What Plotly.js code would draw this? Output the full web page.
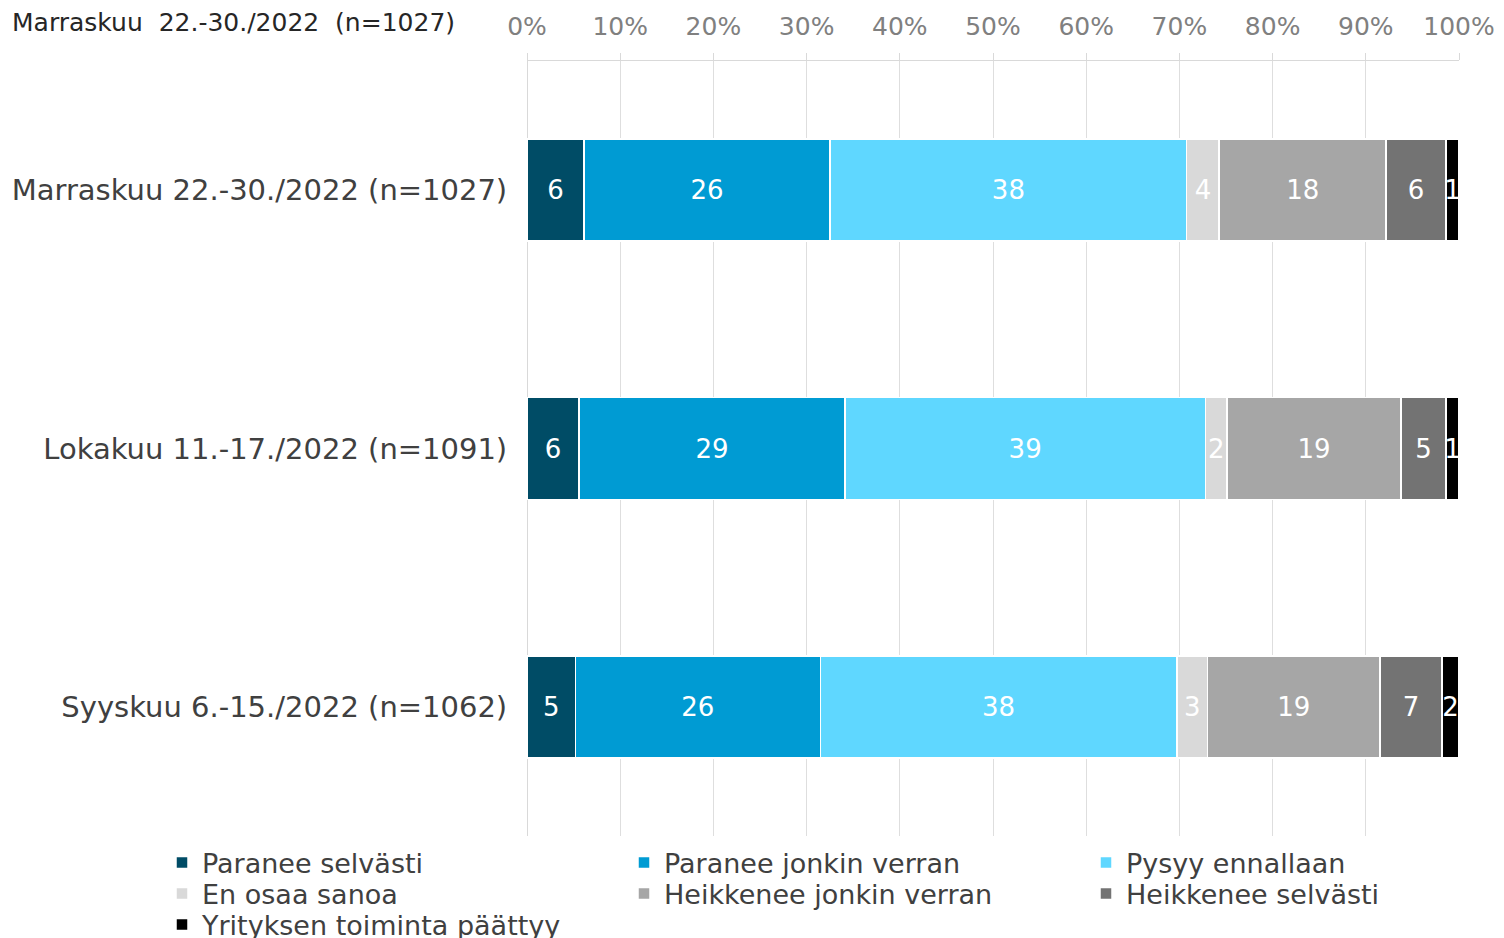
<!DOCTYPE html>
<html>
<head>
<meta charset="utf-8">
<script src="https://cdn.plot.ly/plotly-3.0.1.min.js"></script>
<style>
html, body { margin: 0; padding: 0; background: #fff; }
#chart { width: 1504px; height: 938px; }
</style>
</head>
<body>
<div id="chart"></div>
<script>
// survey rounds, top to bottom
const periods = [
    'Marraskuu 22.-30./2022 (n=1027)',
    'Lokakuu 11.-17./2022 (n=1091)',
    'Syyskuu 6.-15./2022 (n=1062)'
];

// shares in %
const paranee_selvasti = [6.1, 5.6, 5.2];
const paranee_jonkin = [26.4, 28.5, 26.3];
const pysyy_ennallaan = [38.2, 38.7, 38.3];
const en_osaa = [3.5, 2.3, 3.3];
const heikkenee_jonkin = [17.9, 18.7, 18.5];
const heikkenee_selvasti = [6.4, 4.8, 6.7];
const toiminta_paattyy = [1.4, 1.4, 1.8];

// labels printed in the bars
const lbl_paranee_selvasti = ['6', '6', '5'];
const lbl_paranee_jonkin = ['26', '29', '26'];
const lbl_pysyy_ennallaan = ['38', '39', '38'];
const lbl_en_osaa = ['4', '2', '3'];
const lbl_heikkenee_jonkin = ['18', '19', '19'];
const lbl_heikkenee_selvasti = ['6', '5', '7'];
const lbl_toiminta_paattyy = ['1', '1', '2'];

const FONT = 'DejaVu Sans, Verdana, sans-serif';

function make_trace(name, vals, labels, color, legend) {
    return {
        name: name,
        type: 'bar',
        orientation: 'h',
        x: vals,
        y: periods,
        text: labels,
        textposition: 'inside',
        insidetextanchor: 'middle',
        constraintext: 'none',
        textangle: 0,
        textfont: { family: FONT, size: 26, color: '#ffffff' },
        marker: { color: color, line: { color: '#ffffff', width: 1.5 } },
        legend: legend,
        hoverinfo: 'name+x'
    };
}

var data = [
    make_trace('Paranee selvästi', paranee_selvasti, lbl_paranee_selvasti, '#004C66', 'legend'),
    make_trace('Paranee jonkin verran', paranee_jonkin, lbl_paranee_jonkin, '#009BD3', 'legend2'),
    make_trace('Pysyy ennallaan', pysyy_ennallaan, lbl_pysyy_ennallaan, '#5FD7FF', 'legend3'),
    make_trace('En osaa sanoa', en_osaa, lbl_en_osaa, '#D9D9D9', 'legend4'),
    make_trace('Heikkenee jonkin verran', heikkenee_jonkin, lbl_heikkenee_jonkin, '#A6A6A6', 'legend5'),
    make_trace('Heikkenee selvästi', heikkenee_selvasti, lbl_heikkenee_selvasti, '#737373', 'legend6'),
    make_trace('Yrityksen toiminta päättyy', toiminta_paattyy, lbl_toiminta_paattyy, '#000000', 'legend7')
];

// one legend box per entry so the 3-column grid can be placed exactly
function legend_at(xpx, ypx) {
    return {
        xref: 'container', yref: 'container',
        x: xpx / 1504, xanchor: 'left',
        y: 1 - ypx / 938, yanchor: 'middle',
        orientation: 'v',
        bgcolor: 'rgba(0,0,0,0)',
        font: { family: FONT, size: 27, color: '#404040' }
    };
}

var layout = {
    width: 1504,
    height: 938,
    margin: { l: 527, r: 45, t: 61, b: 102, pad: 0, autoexpand: false },
    paper_bgcolor: '#ffffff',
    plot_bgcolor: '#ffffff',
    font: { family: FONT, color: '#404040' },
    title: {
        text: 'Marraskuu  22.-30./2022  (n=1027)',
        font: { family: FONT, size: 25, color: '#262626' },
        xref: 'container', yref: 'container',
        x: 12 / 1504, xanchor: 'left',
        y: 1 - 22 / 938, yanchor: 'middle'
    },
    barmode: 'stack',
    barnorm: 'percent',
    bargap: 0.605,
    showlegend: true,
    legend: legend_at(162, 863),
    legend2: legend_at(624, 863),
    legend3: legend_at(1086, 863),
    legend4: legend_at(162, 894),
    legend5: legend_at(624, 894),
    legend6: legend_at(1086, 894),
    legend7: legend_at(162, 925),
    xaxis: {
        side: 'top',
        range: [0, 100],
        tickmode: 'linear',
        tick0: 0,
        dtick: 10,
        ticksuffix: '%',
        ticks: 'outside',
        ticklen: 7,
        tickcolor: '#d9d9d9',
        ticklabelstandoff: 8,
        showline: true,
        linecolor: '#d9d9d9',
        linewidth: 1,
        showgrid: true,
        gridcolor: '#dedede',
        zeroline: true,
        zerolinecolor: '#d9d9d9',
        tickangle: 0,
        automargin: false,
        tickfont: { family: FONT, size: 25, color: '#808080' },
        fixedrange: true
    },
    yaxis: {
        type: 'category',
        autorange: 'reversed',
        showgrid: false,
        showline: false,
        ticks: 'outside',
        ticklen: 13,
        tickcolor: 'rgba(0,0,0,0)',
        automargin: false,
        tickfont: { family: FONT, size: 29, color: '#404040' },
        fixedrange: true
    }
};

Plotly.newPlot('chart', data, layout, { displayModeBar: false, staticPlot: true });
</script>
</body>
</html>
